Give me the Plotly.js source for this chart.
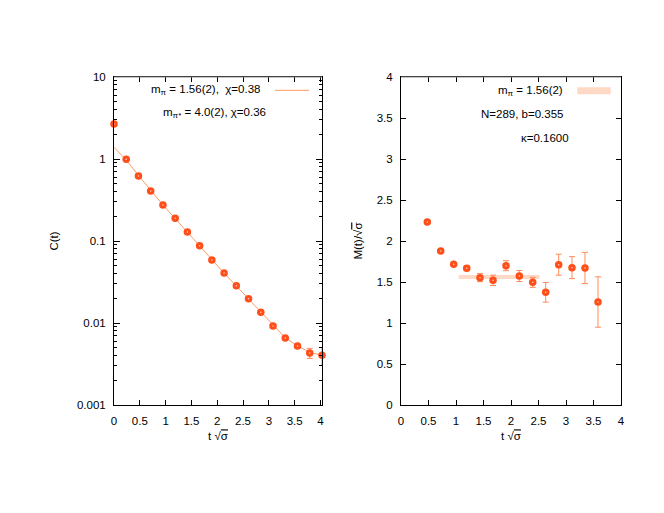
<!DOCTYPE html>
<html>
<head>
<meta charset="utf-8">
<script src="https://cdn.plot.ly/plotly-3.0.1.min.js"></script>
<style>html,body{margin:0;padding:0;background:#fff;}#chart{width:664px;height:513px;}</style>
</head>
<body>
<div id="chart"></div>
<script>
// Left panel: correlator C(t)
const tC = [0, 0.237, 0.474, 0.711, 0.948, 1.185, 1.422, 1.659, 1.896, 2.133, 2.370, 2.607, 2.844, 3.081, 3.318, 3.555, 3.792, 4.03];
const C = [2.67, 0.99, 0.62, 0.407, 0.275, 0.19, 0.129, 0.0877, 0.0586, 0.0407, 0.0285, 0.0198, 0.0135, 0.0092, 0.00656, 0.00525, 0.0043, 0.00403];
const Cerr = [0, 0, 0, 0, 0, 0, 0, 0, 0, 0, 0, 0, 0, 0.0001, 0.0001, 0.0003, 0.0006, 0.001];
// fit curve
const tFit = [0, 0.237, 0.474, 0.711, 0.948, 1.185, 1.422, 1.659, 1.896, 2.133, 2.370, 2.607, 2.844, 3.081, 3.318, 3.555, 3.792, 4.03];
const CFit = [1.39, 0.97, 0.63, 0.41, 0.275, 0.188, 0.128, 0.087, 0.0586, 0.0405, 0.0283, 0.0197, 0.0135, 0.0093, 0.0066, 0.00525, 0.0044, 0.00403];

// Right panel: effective mass
const tM = [0.478, 0.722, 0.958, 1.195, 1.436, 1.673, 1.909, 2.151, 2.395, 2.631, 2.867, 3.109, 3.345, 3.582];
const M = [2.232, 1.878, 1.716, 1.667, 1.553, 1.52, 1.699, 1.573, 1.496, 1.374, 1.711, 1.675, 1.671, 1.256];
const Merr = [0.01, 0.01, 0.01, 0.03, 0.049, 0.063, 0.061, 0.067, 0.061, 0.12, 0.128, 0.134, 0.19, 0.307];
const bandT = [1.05, 2.52];
const bandM = [1.56, 1.56];

const xTicks = [0, 0.5, 1, 1.5, 2, 2.5, 3, 3.5, 4];
const xTickText = ['0', '0.5', '1', '1.5', '2', '2.5', '3', '3.5', '4'];
const yTicksR = [0, 0.5, 1, 1.5, 2, 2.5, 3, 3.5, 4];
const yTickTextR = ['0', '0.5', '1', '1.5', '2', '2.5', '3', '3.5', '4'];

const markerCol = '#ff4e1a';
const lineCol = '#ff9a66';
const errCol = '#ff8a5c';
const FONT = 'Liberation Sans, Arial, sans-serif';
const fs = 11.5;

const traces = [
  {x: tFit, y: CFit, xaxis: 'x', yaxis: 'y', mode: 'lines', line: {color: lineCol, width: 1}, hoverinfo: 'skip'},
  {x: tC, y: C, xaxis: 'x', yaxis: 'y', mode: 'markers', cliponaxis: false, marker: {color: markerCol, size: 7.5},
   error_y: {type: 'data', array: Cerr, color: errCol, thickness: 1, width: 3}},
  {x: tC, y: C, xaxis: 'x', yaxis: 'y', mode: 'markers', cliponaxis: false, marker: {color: '#ffd0c0', size: 1.5}, hoverinfo: 'skip'},
  {x: bandT, y: bandM, xaxis: 'x2', yaxis: 'y2', mode: 'lines', line: {color: '#ffd8c6', width: 4}, hoverinfo: 'skip'},
  {x: tM, y: M, xaxis: 'x2', yaxis: 'y2', mode: 'markers', marker: {color: markerCol, size: 7.5},
   error_y: {type: 'data', array: Merr, color: errCol, thickness: 1, width: 3}},
  {x: tM, y: M, xaxis: 'x2', yaxis: 'y2', mode: 'markers', marker: {color: '#ffd0c0', size: 1.5}, hoverinfo: 'skip'}
];

const W = 664, H = 513;
const px = v => v / W;
const py = v => 1 - v / H;

const axCommon = {
  showgrid: false, zeroline: false, showline: true, linecolor: '#000', linewidth: 1,
  ticks: 'inside', tickcolor: '#000', mirror: 'ticks',
  tickfont: {family: FONT, size: fs, color: '#000'}, ticklabelstandoff: 5
};

const xTitle = 't √<span style="text-decoration:overline">σ</span>';

const layout = {
  width: W, height: H,
  margin: {l: 0, r: 0, t: 0, b: 0},
  paper_bgcolor: '#fff', plot_bgcolor: '#fff',
  showlegend: false,
  font: {family: FONT, size: fs, color: '#000'},
  xaxis: Object.assign({}, axCommon, {
    domain: [px(114), px(322)], range: [0, 4.03], anchor: 'y',
    tickmode: 'array', tickvals: xTicks, ticktext: xTickText, ticklen: 5,
    title: {text: xTitle, font: {family: FONT, size: fs}, standoff: 6}
  }),
  yaxis: Object.assign({}, axCommon, {
    domain: [py(405), py(77)], type: 'log', range: [-3, 1], anchor: 'x',
    dtick: 1, exponentformat: 'none', ticklen: 6,
    minor: {ticks: 'inside', ticklen: 3, tickcolor: '#000', dtick: 'D1', showgrid: false},
    title: {text: 'C(t)', font: {family: FONT, size: fs}, standoff: 15}
  }),
  xaxis2: Object.assign({}, axCommon, {
    domain: [px(401), px(621)], range: [0, 4], anchor: 'y2',
    tickmode: 'array', tickvals: xTicks, ticktext: xTickText, ticklen: 5,
    title: {text: xTitle, font: {family: FONT, size: fs}, standoff: 6}
  }),
  yaxis2: Object.assign({}, axCommon, {
    domain: [py(405), py(77)], range: [0, 4], anchor: 'x2',
    tickmode: 'array', tickvals: yTicksR, ticktext: yTickTextR, ticklen: 5,
    title: {text: 'M(t)/√<span style="text-decoration:overline">σ</span>', font: {family: FONT, size: fs}, standoff: 11}
  }),
  shapes: [
    {type: 'line', xref: 'paper', yref: 'paper', x0: px(275), x1: px(309), y0: py(90.3), y1: py(90.3), line: {color: lineCol, width: 1}},
    {type: 'rect', xref: 'paper', yref: 'paper', x0: px(577.3), x1: px(610.7), y0: py(94.3), y1: py(87.3), fillcolor: '#ffd8c6', line: {width: 0}},
    {type: 'line', xref: 'paper', yref: 'paper', x0: px(114), x1: px(322), y0: py(77), y1: py(77), line: {color: '#888', width: 1}},
    {type: 'line', xref: 'paper', yref: 'paper', x0: px(401), x1: px(621), y0: py(77), y1: py(77), line: {color: '#888', width: 1}}
  ],
  annotations: [
    {xref: 'paper', yref: 'paper', x: px(262), y: py(90), xanchor: 'right', yanchor: 'middle', showarrow: false,
     text: 'm<sub>π</sub> = 1.56(2),  χ=0.38', font: {family: FONT, size: fs}},
    {xref: 'paper', yref: 'paper', x: px(268), y: py(112.7), xanchor: 'right', yanchor: 'middle', showarrow: false,
     text: 'm<sub>π*</sub> = 4.0(2), χ=0.36', font: {family: FONT, size: fs}},
    {xref: 'paper', yref: 'paper', x: px(565), y: py(91), xanchor: 'right', yanchor: 'middle', showarrow: false,
     text: 'm<sub>π</sub> = 1.56(2)', font: {family: FONT, size: fs}},
    {xref: 'paper', yref: 'paper', x: px(566), y: py(114.3), xanchor: 'right', yanchor: 'middle', showarrow: false,
     text: 'N=289, b=0.355', font: {family: FONT, size: fs}},
    {xref: 'paper', yref: 'paper', x: px(571), y: py(137.7), xanchor: 'right', yanchor: 'middle', showarrow: false,
     text: 'κ=0.1600', font: {family: FONT, size: fs}}
  ]
};

Plotly.newPlot('chart', traces, layout, {staticPlot: true, displayModeBar: false});
</script>
</body>
</html>
